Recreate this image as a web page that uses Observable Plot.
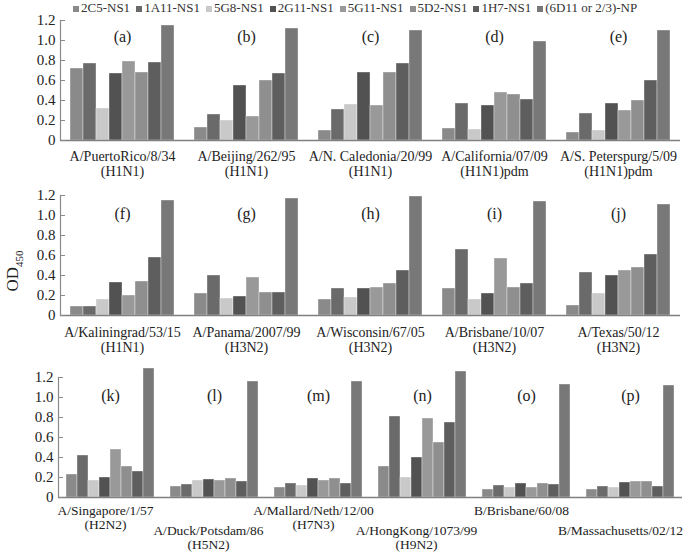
<!DOCTYPE html>
<html><head><meta charset="utf-8">
<script src="https://cdn.jsdelivr.net/npm/d3@7"></script>
<script src="https://cdn.jsdelivr.net/npm/@observablehq/plot@0.6"></script>
<style>
body{margin:0;background:#fff;}
#root{position:relative;width:685px;height:555px;font-family:'Liberation Serif','Times New Roman',serif;color:#222;overflow:hidden;background:#fff}
.row{position:absolute;left:0;}
#legend{position:absolute;top:0;left:73px;display:flex;gap:6px;font-size:13px;line-height:16px;z-index:2;color:#333;white-space:nowrap}
.item{display:flex;align-items:center;gap:2px}
.sw{width:6px;height:6px;display:inline-block;margin-top:1px}
#ylab{position:absolute;left:14px;top:271px;transform:translate(-50%,-50%) rotate(-90deg);font-size:17px;white-space:nowrap;color:#222}
#ylab sub{font-size:11px}
</style></head>
<body>
<div id="root">
  <div id="legend"></div>
  <div id="ylab">OD<sub>450</sub></div>
</div>
<script>
const antibodies = ["2C5-NS1","1A11-NS1","5G8-NS1","2G11-NS1","5G11-NS1","5D2-NS1","1H7-NS1","(6D11 or 2/3)-NP"];
const colors = ["#8a8a8a","#6a6a6a","#c9c9c9","#525252","#999999","#8f8f8f","#5e5e5e","#787878"];
const panels = ["a","b","c","d","e","f","g","h","i","j","k","l","m","n","o","p"];
const strains = ["A/PuertoRico/8/34","A/Beijing/262/95","A/N. Caledonia/20/99","A/California/07/09","A/S. Peterspurg/5/09",
  "A/Kaliningrad/53/15","A/Panama/2007/99","A/Wisconsin/67/05","A/Brisbane/10/07","A/Texas/50/12",
  "A/Singapore/1/57","A/Duck/Potsdam/86","A/Mallard/Neth/12/00","A/HongKong/1073/99","B/Brisbane/60/08","B/Massachusetts/02/12"];
const subtypes = ["(H1N1)","(H1N1)","(H1N1)","(H1N1)pdm","(H1N1)pdm",
  "(H1N1)","(H3N2)","(H3N2)","(H3N2)","(H3N2)",
  "(H2N2)","(H5N2)","(H7N3)","(H9N2)","",""];
const v2C5  = [0.72,0.13,0.10,0.12,0.08, 0.09,0.22,0.16,0.27,0.10, 0.23,0.11,0.10,0.31,0.08,0.08];
const v1A11 = [0.77,0.26,0.31,0.37,0.27, 0.09,0.40,0.27,0.66,0.43, 0.42,0.13,0.14,0.81,0.12,0.11];
const v5G8  = [0.32,0.20,0.36,0.11,0.10, 0.16,0.17,0.18,0.16,0.22, 0.17,0.17,0.12,0.20,0.10,0.10];
const v2G11 = [0.67,0.55,0.68,0.35,0.37, 0.33,0.19,0.27,0.22,0.40, 0.20,0.18,0.19,0.40,0.14,0.15];
const v5G11 = [0.79,0.24,0.35,0.48,0.30, 0.20,0.38,0.28,0.57,0.45, 0.48,0.17,0.17,0.79,0.10,0.16];
const v5D2  = [0.68,0.60,0.68,0.46,0.40, 0.34,0.23,0.32,0.28,0.48, 0.31,0.19,0.19,0.55,0.14,0.16];
const v1H7  = [0.78,0.67,0.77,0.41,0.60, 0.58,0.23,0.45,0.32,0.61, 0.26,0.16,0.14,0.75,0.13,0.11];
const vNP   = [1.15,1.12,1.10,0.99,1.10, 1.15,1.17,1.19,1.14,1.11, 1.29,1.16,1.16,1.26,1.13,1.12];
const yTicks = [0,0.2,0.4,0.6,0.8,1.0,1.2];
const rowPanels = [["a","b","c","d","e"],["f","g","h","i","j"],["k","l","m","n","o","p"]];

const series = [v2C5,v1A11,v5G8,v2G11,v5G11,v5D2,v1H7,vNP];
const labelOf = p => { const i = panels.indexOf(p); return strains[i] + (subtypes[i] ? "\n" + subtypes[i] : ""); };
const fmt = d => d === 0 ? "0" : d.toFixed(1);

const root = document.getElementById("root");
const legend = document.getElementById("legend");
antibodies.forEach((a, j) => {
  const it = document.createElement("div"); it.className = "item";
  const sw = document.createElement("span"); sw.className = "sw"; sw.style.background = colors[j];
  const t = document.createElement("span"); t.textContent = a;
  it.appendChild(sw); it.appendChild(t); legend.appendChild(it);
});

const rows = [
  {panels: rowPanels[0], top: 0, height: 190, letterDy: 16,
   axes: [{panels: rowPanels[0], pad: 10, dx: 0, size: 14}]},
  {panels: rowPanels[1], top: 175, height: 200, letterDy: 18,
   axes: [{panels: rowPanels[1], pad: 11, dx: 0, size: 14}]},
  {panels: rowPanels[2], top: 357, height: 198, letterDy: 18,
   axes: [{panels: ["k","m","o"], pad: 7, dx: -5, size: 13.5},
          {panels: ["l","n"], pad: 27, dx: -6, size: 13.5},
          {panels: ["p"], pad: 27, dx: -10, size: 13.5}]}
];

rows.forEach(r => {
  const data = [];
  r.panels.forEach(p => {
    const i = panels.indexOf(p);
    antibodies.forEach((a, j) => data.push({panel: p, antibody: a, value: series[j][i]}));
  });
  const chart = Plot.plot({
    width: 685, height: r.height,
    marginLeft: 58, marginRight: 3, marginTop: 20, marginBottom: r.height - 140,
    fx: {domain: r.panels, paddingInner: 0, paddingOuter: 0, label: null, axis: null},
    x: {domain: antibodies, paddingInner: 0, paddingOuter: 0.71, axis: null},
    y: {domain: [0, 1.2]},
    color: {domain: antibodies, range: colors},
    style: {fontFamily: "'Liberation Serif','Times New Roman',serif", fontSize: "14px", color: "#222", background: "transparent", overflow: "visible"},
    marks: [
      Plot.barY(data, {fx: "panel", x: "antibody", y: "value", fill: "antibody", stroke: "#fff", strokeWidth: 0.6, strokeOpacity: 0.6}),
      Plot.ruleY([0], {stroke: "#808080", strokeWidth: 1.5}),
      Plot.frame({anchor: "left", facetAnchor: "left", stroke: "#8a8a8a", strokeWidth: 1.2}),
      Plot.axisY(yTicks, {tickSize: -5, tickPadding: 10, tickFormat: fmt, fontSize: 15, stroke: "#8a8a8a", label: null}),
      Plot.text(r.panels, {fx: d => d, text: d => `(${d})`, frameAnchor: "top", lineAnchor: "middle", dy: r.letterDy, fontSize: 16}),
      ...r.axes.map(ax => Plot.text(ax.panels, {fx: d => d, text: labelOf, frameAnchor: "bottom", lineAnchor: "top", dy: ax.pad, dx: ax.dx, fontSize: ax.size, lineHeight: 1.07}))
    ]
  });
  const wrap = document.createElement("div");
  wrap.className = "row";
  wrap.style.top = r.top + "px";
  wrap.appendChild(chart);
  root.appendChild(wrap);
});
</script>
</body></html>
